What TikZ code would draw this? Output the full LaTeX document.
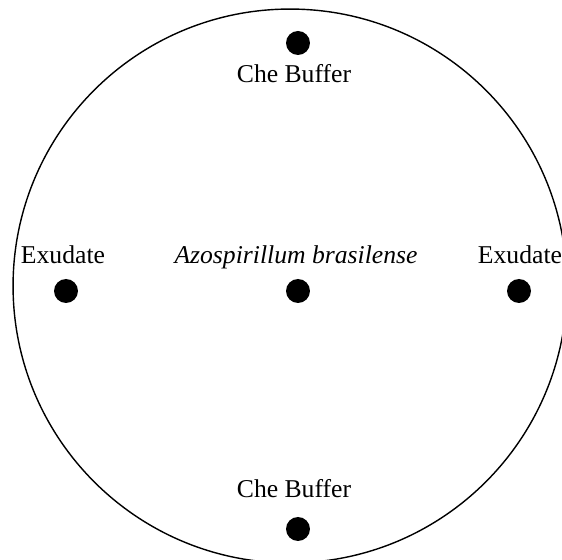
\documentclass[tikz,border=0pt]{standalone}
\usepackage{fontspec}
\setmainfont{Liberation Serif}
\usepackage{tikz}

\tikzset{
    spot/.style={circle, fill=black, inner sep=0pt, minimum size=0.48cm},
    lbl/.style={anchor=base, inner sep=0pt, font=\fontsize{14.6}{17}\selectfont}
}

\begin{document}
\begin{tikzpicture}[x=0.02cm, y=-0.02cm]
    \useasboundingbox (0,0) rectangle (562,560);
    \draw[line width=0.8pt] (290,286) circle[radius=5.54cm]; % plate
    % spots
    \node[spot] (top) at (298,43) {};
    \node[spot] (bottom) at (298,529) {};
    \node[spot] (left) at (66,291) {};
    \node[spot] (right) at (519,291) {};
    \node[spot] (azo) at (298,291) {};
    % labels
    \node[lbl] (toplbl) at (294,83) {Che Buffer};
    \node[lbl] (bottomlbl) at (294,498) {Che Buffer};
    \node[lbl] (leftlbl) at (63,264) {Exudate};
    \node[lbl] (rightlbl) at (520,264) {Exudate};
    \node[lbl] (azolbl) at (296,264) {\itshape Azospirillum brasilense};
\end{tikzpicture}
\end{document}
